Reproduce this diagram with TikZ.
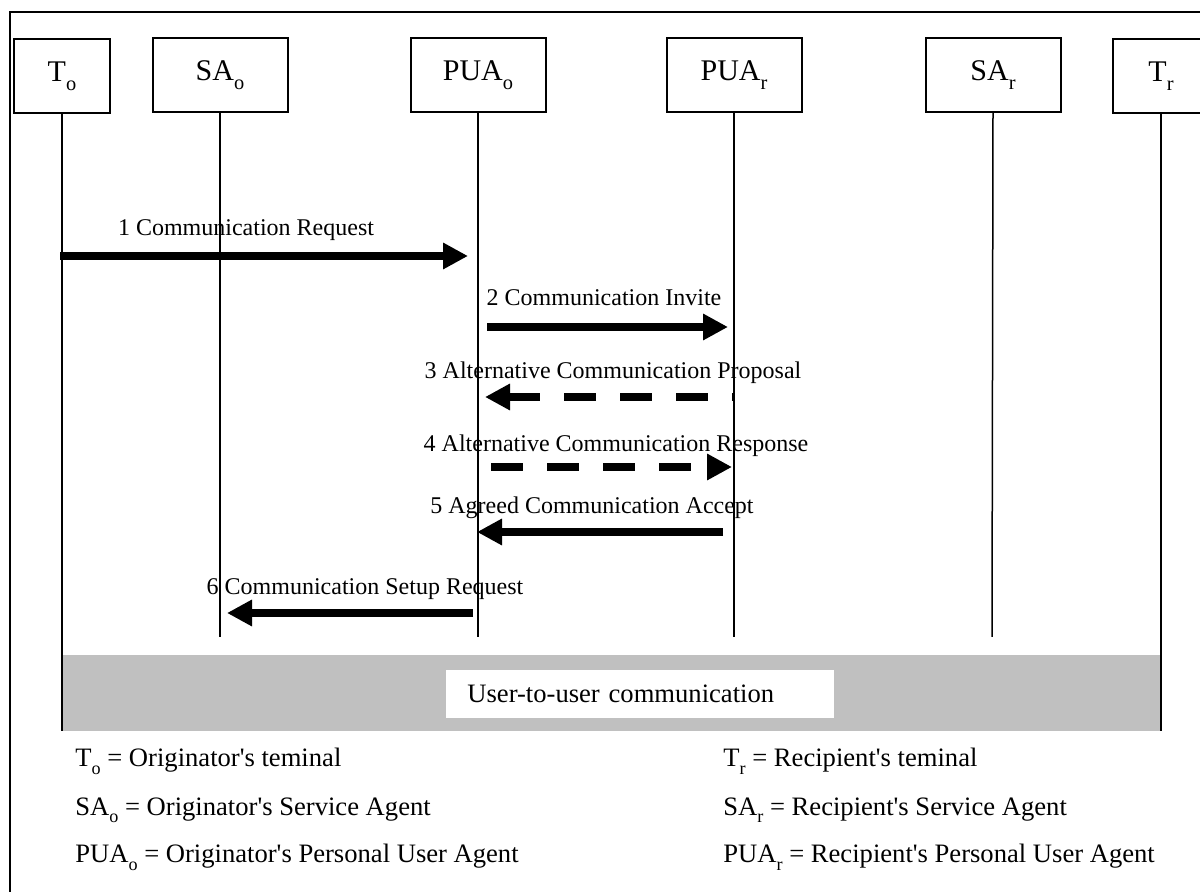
\documentclass[tikz,border=0pt]{standalone}
\usepackage{fontspec}
\setmainfont{Liberation Serif}
\usepackage{graphicx}
\usetikzlibrary{arrows.meta}
\newcommand{\lsub}[1]{\raisebox{-0.3em}{\scalebox{0.68}{#1}}}
\newcommand{\ap}{\textquotesingle}

\begin{document}
\begin{tikzpicture}[x=0.5pt, y=-0.5pt,
	mtip/.tip={Triangle[length=12.5pt, width=12.5pt]},
	entity/.style={draw, line width=1pt, minimum height=37pt, inner sep=0pt, font=\fontsize{15}{18}\selectfont},
	lifeline/.style={line width=0.75pt},
	msg/.style={line width=4pt, -mtip},
	altmsg/.style={line width=4pt, dash pattern=on 16pt off 12pt},
	msglabel/.style={anchor=base, inner sep=0pt, font=\fontsize{12}{14}\selectfont},
	legend/.style={anchor=base west, inner sep=0pt, font=\fontsize{13.3}{16}\selectfont}]
	\useasboundingbox (0,0) rectangle (1200,892);
	\draw[line width=1pt] (10,12.5) rectangle (1215,905);
%
	\node[entity, minimum width=48pt] (To) at (62,76) {T\lsub{o}};
	\node[entity, minimum width=67.5pt] (SAo) at (220,75) {SA\lsub{o}};
	\node[entity, minimum width=67.5pt] (PUAo) at (478,75) {PUA\lsub{o}};
	\node[entity, minimum width=67.5pt] (PUAr) at (734,75) {PUA\lsub{r}};
	\node[entity, minimum width=67.5pt] (SAr) at (993,75) {SA\lsub{r}};
	\node[entity, minimum width=48pt] (Tr) at (1161,76) {T\lsub{r}};
%
	\fill[fill={rgb,255:red,192;green,192;blue,192}] (62,655) rectangle (1161,731);
	\node[fill=white, anchor=west, inner xsep=10.5pt, inner ysep=0pt, text width=173pt, align=left, minimum height=24pt, font=\fontsize{13.3}{16}\selectfont] (u2u) at (446,694) {User-to-user communication};
%
	\draw[lifeline] (To.south) -- (62,731);
	\draw[lifeline] (SAo.south) -- (220,637);
	\draw[lifeline] (PUAo.south) -- (478,637);
	\draw[lifeline] (PUAr.south) -- (734,637);
	\draw[lifeline] (SAr.south) -- (992,637);
	\draw[lifeline] (Tr.south) -- (1161,731);
%
	\coordinate (r1a) at (60,256); \coordinate (r1b) at (468,256);
	\coordinate (r2a) at (487,327); \coordinate (r2b) at (728,327);
	\coordinate (r3a) at (733,397); \coordinate (r3b) at (485,397);
	\coordinate (r4a) at (491,467); \coordinate (r4b) at (732,467);
	\coordinate (r5a) at (723,532); \coordinate (r5b) at (477,532);
	\coordinate (r6a) at (473,613); \coordinate (r6b) at (227,613);
	\draw[msg] (r1a) -- (r1b);
	\draw[msg] (r2a) -- (r2b);
	\draw[altmsg, mtip-] (r3b) -- (r3a);
	\draw[altmsg, -mtip] (r4a) -- (r4b);
	\draw[msg] (r5a) -- (r5b);
	\draw[msg] (r6a) -- (r6b);
	\node[msglabel] (l1) at (246,236) {1 Communication Request};
	\node[msglabel] (l2) at (604,306) {2 Communication Invite};
	\node[msglabel] (l3) at (613,379) {3 Alternative Communication Proposal};
	\node[msglabel] (l4) at (616,452) {4 Alternative Communication Response};
	\node[msglabel] (l5) at (592,514) {5 Agreed Communication Accept};
	\node[msglabel] (l6) at (365,595) {6 Communication Setup Request};
%
	\node[legend] (k1) at (75,767) {T\lsub{o} = Originator\ap s teminal};
	\node[legend] (k2) at (75,815) {SA\lsub{o} = Originator\ap s Service Agent};
	\node[legend] (k3) at (75,863) {PUA\lsub{o} = Originator\ap s Personal User Agent};
	\node[legend] (k4) at (723,767) {T\lsub{r} = Recipient\ap s teminal};
	\node[legend] (k5) at (723,815) {SA\lsub{r} = Recipient\ap s Service Agent};
	\node[legend] (k6) at (723,863) {PUA\lsub{r} = Recipient\ap s Personal User Agent};
\end{tikzpicture}
\end{document}
